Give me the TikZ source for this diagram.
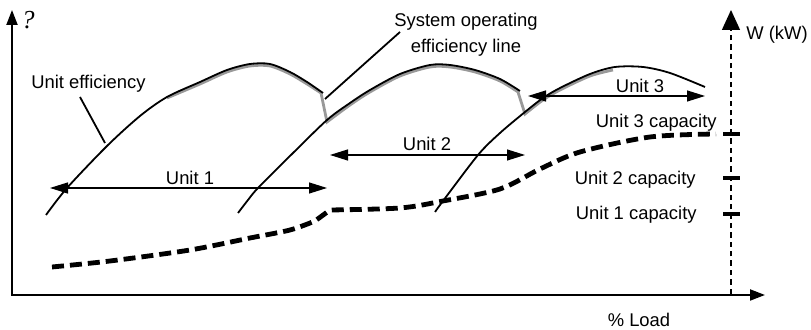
\documentclass[tikz,border=0pt]{standalone}
\usepackage{fontspec}
\setmainfont{Liberation Sans}
\newfontfamily\qmarkfont{Liberation Serif}
\usetikzlibrary{arrows.meta}

\tikzset{
  axisline/.style={line width=1pt, -{Triangle[length=7.5pt, width=5.5pt]}},
  effcurve/.style={line width=0.9pt, black},
  sysline/.style={line width=1.4pt, black!40, yshift=-1pt},
  capcurve/.style={line width=2.4pt, dash pattern=on 6pt off 3pt},
  unitarrow/.style={line width=0.6pt, {Triangle[length=9pt, width=5.5pt]}-{Triangle[length=9pt, width=5.5pt]}},
  leader/.style={line width=0.9pt},
  captick/.style={line width=1.6pt},
  caplabel/.style={anchor=base east, inner sep=0pt}
}

\begin{document}
\begin{tikzpicture}[x=0.5pt, y=-0.5pt, font=\fontsize{9.2}{12.7}\selectfont]
\useasboundingbox (0,0) rectangle (811,330);
% axes
\draw[axisline] (12,296) -- (12,10);
\draw[axisline] (12,295) -- (765,295);
\draw[line width=0.7pt, dash pattern=on 2.7pt off 2pt, -{Triangle[length=10pt, width=9pt]}] (731,294) -- (731,10);
\node[inner sep=0pt] (qlabel) at (28,20) {\qmarkfont\itshape\fontsize{13}{14}\selectfont ?};
\node[anchor=base west, inner sep=0pt] (wlabel) at (746,40) {W (kW)};
\node[anchor=base, inner sep=0pt] (loadlabel) at (639,327) {\% Load};
% capacity ticks and labels
\foreach \y in {134,178,214} \draw[captick] (723,\y) -- (740,\y);
\foreach \n/\x/\y in {3/717/128,2/696/185,1/697/220}
  \node[caplabel] (cap\n) at (\x,\y) {Unit \n\ capacity};
% system operating efficiency line (grey, under the unit curves)
\draw[sysline] plot[smooth] coordinates {(167,96) (200,82) (227,70) (250,64) (270,64) (290,72) (307,82) (321,91)}
  -- (327,120)
  -- plot[smooth] coordinates {(327,120) (350,103) (370,90) (400,74) (430,65) (450,65) (475,70) (500,79) (518,90)}
  -- (525,112)
  -- plot[smooth] coordinates {(525,112) (543,98) (560,88) (590,74) (613,68)};
% unit efficiency curves
\draw[effcurve] plot[smooth] coordinates {(46,215) (67,188) (107,146) (140,116) (167,97) (200,82) (227,70) (250,64) (270,64) (290,72) (307,82) (323,93)};
\draw[effcurve] plot[smooth] coordinates {(238,213) (248,200) (258,188) (292,154) (327,120) (350,103) (370,90) (400,74) (430,65) (450,65) (475,70) (500,79) (520,91)};
\draw[effcurve] plot[smooth] coordinates {(435,212) (443,201) (478,155) (500,133) (525,112) (543,98) (560,88) (590,74) (615,67) (643,67) (670,73) (705,87)};
% capacity curve
\draw[capcurve] plot[smooth] coordinates {(52,267) (110,261) (190,250) (250,238) (290,230) (315,221)}
  -- (330,210)
  -- plot[smooth] coordinates {(330,210) (400,208) (443,201) (500,189) (540,169) (580,152) (650,137) (716,134)};
% unit ranges
\coordinate (u1l) at (50,188);  \coordinate (u1r) at (327,188);
\coordinate (u2l) at (330,155); \coordinate (u2r) at (525,155);
\coordinate (u3l) at (528,96);  \coordinate (u3r) at (705,96);
\draw[unitarrow] (u1l) -- (u1r);
\draw[unitarrow] (u2l) -- (u2r);
\draw[unitarrow] (u3l) -- (u3r);
\node[anchor=base, inner sep=0pt] (unit1) at (190,185) {Unit 1};
\node[anchor=base, inner sep=0pt] (unit2) at (427,151) {Unit 2};
\node[anchor=base, inner sep=0pt] (unit3) at (640,93) {Unit 3};
% leaders
\node[anchor=base, inner sep=0pt] (effl) at (88.5,89) {Unit efficiency};
\coordinate (efftop) at (80,97);
\coordinate (effpt) at (105,143);
\draw[leader] (efftop) -- (effpt);
\node[anchor=north, inner sep=0pt, align=center] (sysl) at (466,13) {System operating\\efficiency line};
\coordinate (systop) at (400,32);
\coordinate (syspt) at (325,99);
\draw[leader] (systop) -- (syspt);
\end{tikzpicture}
\end{document}
